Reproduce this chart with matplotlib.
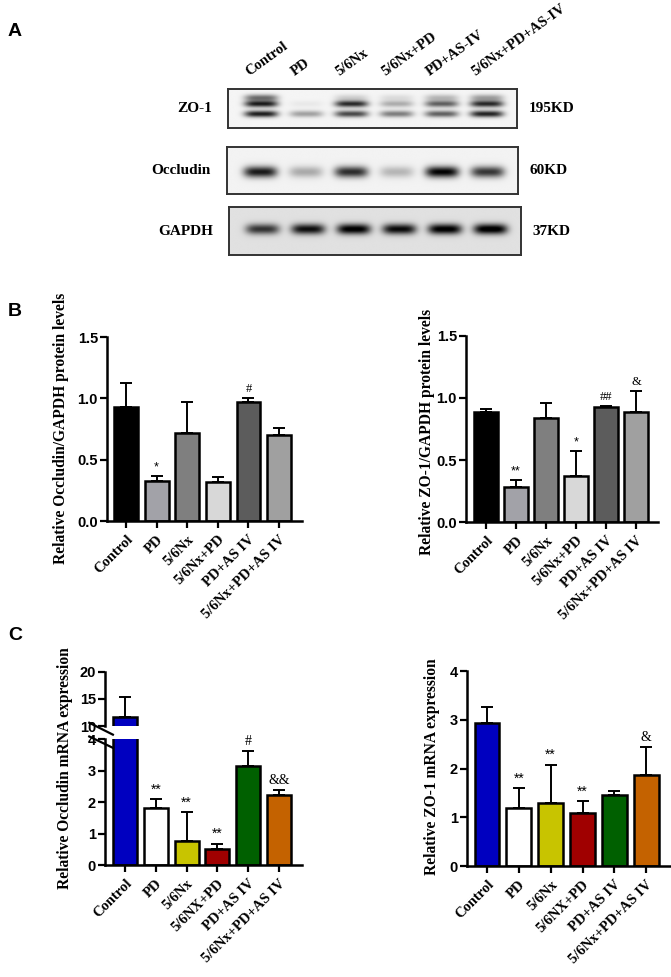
import numpy as np
import matplotlib
matplotlib.use('Agg')
import matplotlib.pyplot as plt

SERIF = 'Liberation Serif'
SANS = 'Liberation Sans'

# ---- panel A: western blot band intensities (0 = none, 1 = darkest)
lanes = ['Control', 'PD', '5/6Nx', '5/6Nx+PD', 'PD+AS-IV', '5/6Nx+PD+AS-IV']
zo1_upper = [0.90, 0.05, 0.85, 0.30, 0.62, 0.85]
zo1_lower = [0.90, 0.35, 0.72, 0.50, 0.62, 0.88]
zo1_top = [0.55, 0.00, 0.15, 0.10, 0.25, 0.35]
occludin_band = [0.90, 0.30, 0.82, 0.25, 1.00, 0.78]
gapdh_band = [0.72, 0.88, 0.97, 0.90, 0.97, 1.00]

# ---- panel B: protein levels (mean, upper error)
groups_b = ['Control', 'PD', '5/6Nx', '5/6Nx+PD', 'PD+AS IV', '5/6Nx+PD+AS IV']
occ_prot = [0.927, 0.329, 0.715, 0.315, 0.967, 0.698]
occ_prot_err = [0.20, 0.035, 0.255, 0.046, 0.038, 0.063]
occ_prot_sig = ['', '*', '', '', '#', '']
zo1_prot = [0.891, 0.279, 0.837, 0.368, 0.931, 0.891]
zo1_prot_err = [0.024, 0.062, 0.126, 0.201, 0.005, 0.166]
zo1_prot_sig = ['', '**', '', '*', '##', '&']
gray_colors = ['#000000', '#a2a2a8', '#7f7f7f', '#d8d8d8', '#5c5c5c', '#a0a0a0']

# ---- panel C: mRNA expression
groups_c = ['Control', 'PD', '5/6Nx', '5/6NX+PD', 'PD+AS IV', '5/6Nx+PD+AS IV']
occ_mrna = [11.74, 1.81, 0.76, 0.51, 3.13, 2.22]
occ_mrna_err = [3.60, 0.27, 0.92, 0.17, 0.50, 0.16]
occ_mrna_sig = ['', '**', '**', '**', '#', '&&']
zo1_mrna = [2.94, 1.20, 1.30, 1.08, 1.45, 1.86]
zo1_mrna_err = [0.33, 0.39, 0.78, 0.25, 0.09, 0.59]
zo1_mrna_sig = ['', '**', '**', '**', '', '&']
mrna_colors = ['#0000c0', '#ffffff', '#c8c400', '#a00000', '#006000', '#c46200']

fig = plt.figure(figsize=(6.71, 9.77), dpi=100)


def blot(rect, bands, ys, hw, bg, label, size):
    ax = fig.add_axes(rect)
    xs = np.linspace(-0.73, 5.66, 400)
    yy = np.linspace(0, 1, 100)
    X, Y = np.meshgrid(xs, yy)
    img = np.full(X.shape, bg)
    for inten, yc in zip(bands, ys):
        for i, v in enumerate(inten):
            fx = np.exp(-((X - i) / 0.37) ** 4)
            fy = np.exp(-((Y - yc) / hw) ** 2)
            img = img + v * 0.95 * fx * fy
    ax.imshow(np.clip(img, 0, 1), cmap='gray_r', vmin=0, vmax=1, aspect='auto',
              extent=[xs[0], xs[-1], 0, 1], origin='lower', interpolation='bilinear')
    for s in ax.spines.values():
        s.set_linewidth(1.4)
        s.set_color('#333333')
    ax.set_xticks([])
    ax.set_yticks([])
    ax.text(-0.055, 0.5, label, transform=ax.transAxes, ha='right', va='center',
            fontsize=11, fontweight='bold', family=SERIF)
    ax.text(1.04, 0.5, size, transform=ax.transAxes, ha='left', va='center',
            fontsize=11, fontweight='bold', family=SERIF)
    return ax


ax_zo = blot([228 / 671, 0.8690, 289 / 671, 0.0399], [zo1_top, zo1_upper, zo1_lower],
             [0.78, 0.62, 0.36], 0.085, 0.04, 'ZO-1', '195KD')
ax_occ = blot([227 / 671, 0.8014, 291 / 671, 0.0481], [occludin_band], [0.47], 0.12, 0.05,
              'Occludin', '60KD')
ax_gap = blot([229 / 671, 0.7390, 292 / 671, 0.0491], [gapdh_band], [0.54], 0.11, 0.12,
              'GAPDH', '37KD')
for i, name in enumerate(lanes):
    ax_zo.text(i - 0.22, 1.26, name, transform=ax_zo.get_xaxis_transform(),
               rotation=36, rotation_mode='anchor', ha='left', va='bottom',
               fontsize=10.5, fontweight='bold', family=SERIF)


def style(ax, xlim):
    for s in ['top', 'right']:
        ax.spines[s].set_visible(False)
    for s in ['left', 'bottom']:
        ax.spines[s].set_linewidth(1.8)
    ax.tick_params(width=1.6, length=5, direction='out')
    ax.tick_params(axis='y', pad=1.5)
    ax.set_xlim(*xlim)
    for t in ax.get_yticklabels():
        t.set_fontfamily(SANS)
        t.set_fontweight('bold')
        t.set_fontsize(10.5)


def bars(ax, vals, errs, colors, sigs=None, sig_size=9):
    x = np.arange(len(vals))
    ax.bar(x, vals, width=0.78, color=colors, edgecolor='black', linewidth=1.8, zorder=2)
    ax.errorbar(x, vals, yerr=[np.zeros(len(vals)), errs], fmt='none', ecolor='black',
                elinewidth=1.4, capsize=4.5, capthick=1.4, zorder=1)
    if sigs:
        for xi, v, e, s in zip(x, vals, errs, sigs):
            if s:
                ax.annotate(s, (xi, v + e), xytext=(0, 2), textcoords='offset points',
                            ha='center', va='bottom', fontsize=sig_size,
                            family=SANS if '*' in s else SERIF)


def xlabels(ax, names):
    ax.set_xticks(np.arange(len(names)))
    ax.set_xticklabels(names, rotation=45, ha='right', rotation_mode='anchor',
                       fontsize=10.5, fontweight='bold', family=SERIF)


# B left
ax1 = fig.add_axes([0.1595, 0.4667, 0.2906, 0.1883])
bars(ax1, occ_prot, occ_prot_err, gray_colors, occ_prot_sig)
ax1.set_ylim(0, 1.5)
ax1.set_yticks([0, 0.5, 1.0, 1.5])
ax1.set_yticklabels(['0.0', '0.5', '1.0', '1.5'])
style(ax1, (-0.62, 5.75))
xlabels(ax1, groups_b)

# B right
ax2 = fig.add_axes([0.6945, 0.4657, 0.2861, 0.1904])
bars(ax2, zo1_prot, zo1_prot_err, gray_colors, zo1_prot_sig)
ax2.set_ylim(0, 1.5)
ax2.set_yticks([0, 0.5, 1.0, 1.5])
ax2.set_yticklabels(['0.0', '0.5', '1.0', '1.5'])
style(ax2, (-0.67, 5.73))
xlabels(ax2, groups_b)

# C left (broken axis)
ax3 = fig.add_axes([0.1565, 0.1146, 0.2936, 0.1290])
ax3t = fig.add_axes([0.1565, 0.2569, 0.2936, 0.0553])
bars(ax3, occ_mrna, occ_mrna_err, mrna_colors, occ_mrna_sig, sig_size=10)
bars(ax3t, occ_mrna, occ_mrna_err, mrna_colors)
ax3.set_ylim(0, 4)
ax3.set_yticks([0, 1, 2, 3, 4])
ax3t.set_ylim(10, 20)
ax3t.set_yticks([10, 15, 20])
style(ax3, (-0.65, 5.75))
style(ax3t, (-0.65, 5.75))
ax3t.spines['bottom'].set_visible(False)
ax3t.set_xticks([])
xlabels(ax3, groups_c)
kw = dict(color='black', lw=1.6, clip_on=False)
ax3t.plot([-0.08, 0.04], [0.06, -0.16], transform=ax3t.transAxes, **kw)
ax3.plot([-0.08, 0.04], [1.02, 0.93], transform=ax3.transAxes, **kw)

# C right
ax4 = fig.add_axes([0.696, 0.1136, 0.3025, 0.1996])
bars(ax4, zo1_mrna, zo1_mrna_err, mrna_colors, zo1_mrna_sig, sig_size=10)
ax4.set_ylim(0, 4)
ax4.set_yticks([0, 1, 2, 3, 4])
style(ax4, (-0.63, 5.75))
xlabels(ax4, groups_c)

# y labels
ylab = dict(rotation=90, ha='center', va='center', fontsize=11.2,
            fontweight='bold', family=SERIF)
fig.text(61 / 671, 1 - 428 / 977, 'Relative Occludin/GAPDH protein levels', **ylab)
fig.text(427 / 671, 1 - 432 / 977, 'Relative ZO-1/GAPDH protein levels', **ylab)
fig.text(65 / 671, 1 - 768 / 977, 'Relative Occludin mRNA expression', **ylab)
fig.text(432 / 671, 1 - 767 / 977, 'Relative ZO-1 mRNA expression', **ylab)

# panel letters
for letter, y in [('A', 32), ('B', 312), ('C', 636)]:
    fig.text(8 / 671, 1 - y / 977, letter, ha='left', va='center', fontsize=14,
             fontweight='bold', family=SANS)

fig.savefig('out.png', dpi=100)
